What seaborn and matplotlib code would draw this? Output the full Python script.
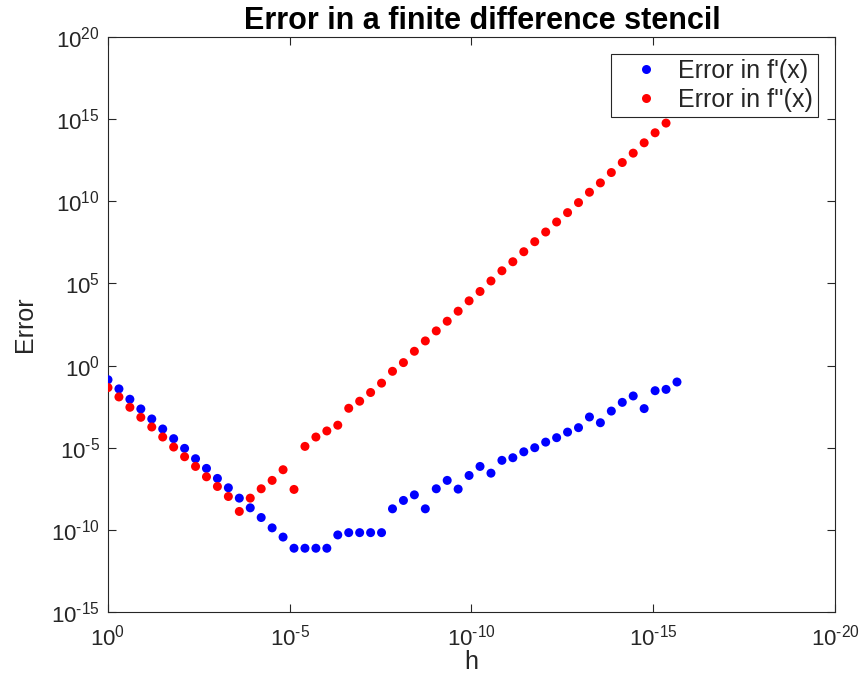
import matplotlib
matplotlib.use("Agg")
import matplotlib.pyplot as plt
import matplotlib.ticker as mticker
import pandas as pd
import seaborn as sns

# step sizes h = 2^-k, k = 0..52
h_pow2 = list(range(53))

# log10 of the error
err_d1_log10 = [
    -0.86, -1.42, -2.05, -2.64, -3.25, -3.86, -4.45, -5.04, -5.67, -6.26,
    -6.87, -7.44, -8.07, -8.66, -9.25, -9.88, -10.44, -11.12, -11.12, -11.12,
    -11.12, -10.31, -10.17, -10.17, -10.17, -10.17, -8.72, -8.21, -7.87, -8.72,
    -7.50, -6.99, -7.52, -6.69, -6.14, -6.55, -5.77, -5.61, -5.25, -5.00,
    -4.66, -4.39, -4.05, -3.78, -3.13, -3.48, -2.77, -2.24, -1.85, -2.62,
    -1.53, -1.45, -1.00,
]
err_d2_log10 = [
    -1.34, -1.91, -2.54, -3.15, -3.74, -4.35, -4.96, -5.55, -6.14, -6.77,
    -7.36, -7.97, -8.88, -8.07, -7.50, -6.99, -6.34, -7.54, -4.92, -4.35,
    -3.98, -3.63, -2.60, -2.17, -1.64, -1.07, -0.35, 0.18, 0.87, 1.50,
    2.11, 2.70, 3.31, 3.94, 4.51, 5.15, 5.77, 6.32, 6.93, 7.54,
    8.13, 8.74, 9.31, 9.92, 10.55, 11.12, 11.75, 12.36, 12.93, 13.56,
    14.17, 14.76, 15.35,
]
series_names = ["Error in f'(x)", "Error in f''(x)"]
series_colors = ["#0000ff", "#ff0000"]

x_tick_pows = [0, -5, -10, -15, -20]
y_tick_pows = [-15, -10, -5, 0, 5, 10, 15, 20]

h = [2.0 ** -k for k in h_pow2]
df = pd.concat([
    pd.DataFrame({"h": h, "err": [10.0 ** e for e in err_d1_log10], "series": series_names[0]}),
    pd.DataFrame({"h": h, "err": [10.0 ** e for e in err_d2_log10], "series": series_names[1]}),
])

sns.set_theme(style="ticks")
plt.rcParams["font.family"] = ["Liberation Sans", "DejaVu Sans"]
plt.rcParams["mathtext.default"] = "regular"
dark = "#262626"


def pow_label(p):
    # matlab draws a plain hyphen in the exponent
    s = str(p).replace("-", "\u2010")
    return rf"$10^{{{s}}}$"


fig = plt.figure(figsize=(8.64, 6.79), dpi=100)
ax = fig.add_axes([0.125, 0.0987, 0.8414, 0.8468])

sns.scatterplot(
    data=df, x="h", y="err", hue="series",
    palette=dict(zip(series_names, series_colors)),
    s=42, linewidth=0, ax=ax, zorder=3,
)

ax.set_xscale("log")
ax.set_yscale("log")
ax.set_xlim(1, 1e-20)
ax.set_ylim(1e-15, 1e20)
ax.set_xticks([10.0 ** p for p in x_tick_pows], [pow_label(p) for p in x_tick_pows])
ax.set_yticks([10.0 ** p for p in y_tick_pows], [pow_label(p) for p in y_tick_pows])
ax.xaxis.set_minor_locator(mticker.NullLocator())
ax.yaxis.set_minor_locator(mticker.NullLocator())
ax.tick_params(which="both", direction="in", top=True, right=True,
               length=6, width=0.8, colors=dark, labelsize=16)
ax.tick_params(axis="x", pad=9)
ax.tick_params(axis="y", pad=6)
for sp in ax.spines.values():
    sp.set_color(dark)
    sp.set_linewidth(0.8)

ax.set_xlabel("h", fontsize=18, color=dark, labelpad=0)
ax.set_ylabel("Error", fontsize=18, color=dark, labelpad=10)
ax.set_title("Error in a finite difference stencil", fontsize=22,
             fontweight="bold", color="black", pad=6, x=0.515)

leg = ax.legend(loc="upper right", fontsize=18, frameon=True, fancybox=False,
                edgecolor=dark, framealpha=1, borderaxespad=0.68,
                handlelength=2.4, handletextpad=0.1, borderpad=0.2,
                labelspacing=0.2)
leg.get_frame().set_linewidth(0.8)
leg.set_zorder(5)

fig.savefig("out.png", dpi=100)
